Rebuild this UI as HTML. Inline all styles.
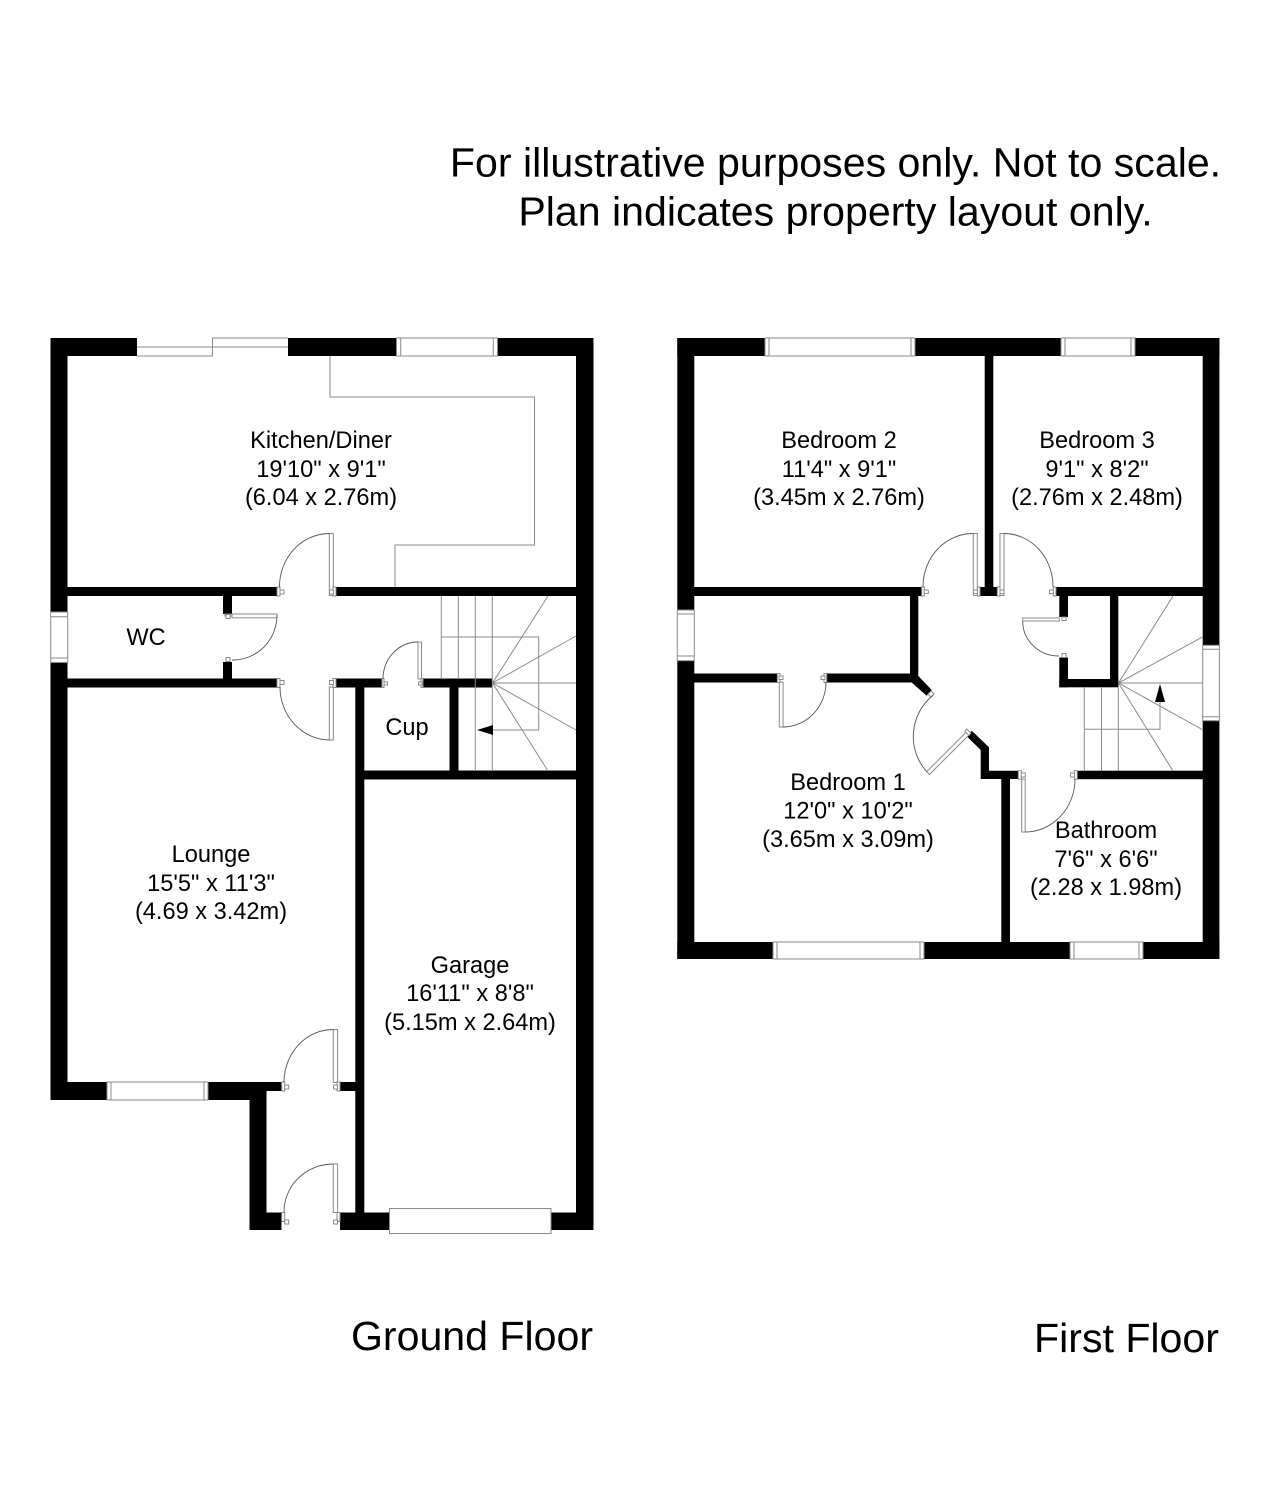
<!DOCTYPE html>
<html>
<head>
<meta charset="utf-8">
<style>
html,body{margin:0;padding:0;background:#fff}
svg{display:block}
text{font-family:"Liberation Sans",Arial,sans-serif;fill:#000;text-anchor:middle}
.r{font-size:23.6px}
.b{font-size:41.1px}
.w{fill:#000;stroke:none}
.l{fill:none;stroke:#8a8a8a;stroke-width:1}
.g{fill:#fff;stroke:#8a8a8a;stroke-width:1}
.d{fill:none;stroke:#555;stroke-width:.9}
</style>
</head>
<body>
<svg width="1271" height="1500" viewBox="0 0 1271 1500" xmlns="http://www.w3.org/2000/svg">
<rect width="1271" height="1500" fill="#fff"/>

<text class="b" x="835.5" y="176.5">For illustrative purposes only. Not to scale.</text>
<text class="b" x="835.5" y="225.5">Plan indicates property layout only.</text>

<!-- GROUND FLOOR walls -->
<g class="w">
<rect x="50.5" y="338" width="543" height="18"/>
<rect x="50.5" y="338" width="17" height="762"/>
<rect x="576" y="338" width="17.5" height="892"/>
<rect x="67" y="587" width="210" height="9"/>
<rect x="336" y="587" width="240" height="9"/>
<rect x="223" y="596" width="9" height="18"/>
<rect x="223" y="662" width="9" height="17"/>
<rect x="67" y="678.5" width="210" height="9"/>
<rect x="336" y="678.5" width="46" height="9"/>
<rect x="423" y="678.5" width="69.5" height="9"/>
<rect x="355.3" y="687" width="9" height="526"/>
<rect x="449.5" y="687" width="9" height="84"/>
<rect x="364" y="770.5" width="212" height="9"/>
<rect x="50.5" y="1082" width="199" height="18"/>
<rect x="249.5" y="1082" width="32" height="9"/>
<rect x="249.5" y="1082" width="17" height="148"/>
<rect x="249.5" y="1212.5" width="32" height="17.5"/>
<rect x="340" y="1082" width="16" height="9"/>
<rect x="340" y="1212.5" width="49" height="17.5"/>
<rect x="551" y="1212.5" width="42.5" height="17.5"/>
</g>

<!-- ground windows -->
<rect x="137" y="338" width="151" height="18.5" fill="#fff"/>
<path class="l" d="M137 347H212.5M137 356H212.5V338H288M212.5 347H288"/>
<rect class="g" x="396.5" y="338" width="101" height="18"/>
<path class="l" d="M400.7 338V356M493.3 338V356"/>
<rect class="g" x="50.7" y="612" width="17" height="50.5"/>
<path class="l" d="M50.7 616.7H67.7M50.7 658H67.7"/>
<rect class="g" x="107" y="1082" width="101" height="18"/>
<path class="l" d="M111 1082V1100M204 1082V1100"/>
<rect class="g" x="389.5" y="1208.5" width="161.5" height="25"/>

<!-- kitchen unit line -->
<path class="l" d="M330 356V397H534.5V545H395V587"/>

<!-- stairs ground -->
<path class="l" d="M441.3 596V679M458.3 596V679M475.3 596V771M492.3 596V771M441.3 637H538.7V730H493"/>
<path class="l" d="M492.5 683L548 596M492.5 683L576 636M492.5 683H576M492.5 683L576 730M492.5 683L548 771"/>
<path d="M493 725V735L477 730Z" fill="#000"/>

<!-- ground doors -->
<g class="g">
<rect x="329.3" y="533.5" width="4" height="62"/>
<rect x="277" y="587" width="3" height="9"/><rect x="280" y="590" width="4" height="4"/>
<rect x="333" y="587" width="3" height="9"/><rect x="329.5" y="590" width="4" height="4"/>
<rect x="232" y="614" width="45" height="3.8"/>
<rect x="225" y="614" width="7" height="2"/><rect x="226" y="614.5" width="4" height="4"/>
<rect x="226" y="657.5" width="4" height="4"/>
<rect x="329.3" y="687" width="4" height="53"/>
<rect x="277" y="678.5" width="3" height="9"/><rect x="280" y="680.5" width="4" height="4"/>
<rect x="333" y="678.5" width="3" height="9"/><rect x="329.5" y="680.5" width="4" height="4"/>
<rect x="418" y="642" width="3.5" height="37"/>
<rect x="382" y="678.5" width="2" height="9"/><rect x="384" y="682" width="3.5" height="3"/>
<rect x="421" y="678.5" width="2" height="9"/><rect x="418.5" y="682" width="3.5" height="3"/>
<rect x="333.3" y="1029.5" width="4.3" height="53"/>
<rect x="281.7" y="1082" width="3" height="9"/><rect x="284.7" y="1085" width="4" height="4"/>
<rect x="337" y="1082" width="3" height="9"/><rect x="333.5" y="1085" width="4" height="4"/>
<rect x="333.3" y="1164" width="4.3" height="48.5"/>
<rect x="281.7" y="1212.5" width="3" height="9"/><rect x="284.7" y="1220" width="4" height="4"/>
<rect x="337" y="1212.5" width="3" height="9"/><rect x="333.5" y="1220" width="4" height="4"/>
</g>
<g class="d">
<path d="M279.5 587A50 53 0 0 1 329.3 533.5"/>
<path d="M277 615A44 45 0 0 1 232 660"/>
<path d="M280 687A50 53 0 0 0 329.3 740"/>
<path d="M383 679A35 37 0 0 1 418 642"/>
<path d="M284 1082A49 53 0 0 1 333.3 1029.5"/>
<path d="M284 1212A49 48 0 0 1 333.3 1164"/>
</g>

<!-- FIRST FLOOR walls -->
<g class="w">
<rect x="677.3" y="338" width="542" height="18"/>
<rect x="677.3" y="338" width="17" height="621"/>
<rect x="1202.7" y="338" width="16.7" height="621"/>
<rect x="677.3" y="942" width="542" height="17"/>
<rect x="984.7" y="356" width="8.6" height="240"/>
<rect x="980" y="587" width="17.3" height="9"/>
<rect x="694" y="587" width="227.7" height="9"/>
<rect x="910" y="595" width="8.3" height="80"/>
<rect x="694" y="673.5" width="83.3" height="9"/>
<polygon points="826.7,673.5 910,673.5 917.5,675 931.7,690 926.7,695.7 911.7,682.5 826.7,682.5"/>
<rect x="1056" y="587" width="147" height="9"/>
<rect x="1059.3" y="596" width="8.7" height="21"/>
<rect x="1059.3" y="657.5" width="8.7" height="29.8"/>
<rect x="1059.3" y="679" width="59" height="8.3"/>
<rect x="1110" y="596" width="8.3" height="91"/>
<polygon points="971.7,730.7 989,747.3 989,770.7 1018.3,770.7 1018.3,779 1010,779 1010,942 1001.3,942 1001.3,779 980.7,779 980.7,750 967,736.5"/>
<rect x="1077.3" y="770.7" width="126" height="8.5"/>
</g>

<!-- first floor windows -->
<rect class="g" x="765" y="338" width="150" height="18"/>
<path class="l" d="M769 338V356M911 338V356"/>
<rect class="g" x="1061" y="338" width="74" height="18"/>
<path class="l" d="M1065 338V356M1131 338V356"/>
<rect class="g" x="773" y="942" width="151" height="17"/>
<path class="l" d="M777 942V959M920 942V959"/>
<rect class="g" x="1070" y="942" width="73" height="17"/>
<path class="l" d="M1074 942V959M1139 942V959"/>
<rect class="g" x="677.3" y="610" width="17" height="50.7"/>
<path class="l" d="M677.3 614H694.3M677.3 656H694.3"/>
<rect class="g" x="1202.7" y="645.3" width="16.7" height="75.4"/>
<path class="l" d="M1202.7 649.3H1219.4M1202.7 716.7H1219.4"/>

<!-- stairs first -->
<path class="l" d="M1084.3 687V771M1101.5 687V771M1118.3 687V771M1084.3 729.3H1160V702"/>
<path class="l" d="M1118.5 683L1173 596M1118.5 683L1203 636.7M1118.5 683H1203M1118.5 683L1203 730M1118.5 683L1173 771"/>
<path d="M1155 702H1165L1160 684Z" fill="#000"/>

<!-- first floor doors -->
<g class="g">
<rect x="779.3" y="682" width="3.8" height="45"/>
<rect x="777.3" y="673.5" width="2.6" height="9"/><rect x="779" y="676" width="4" height="3.5"/>
<rect x="824" y="673.5" width="2.7" height="9"/><rect x="821" y="676" width="4" height="3.5"/>
<rect x="973.3" y="533.5" width="4" height="62"/>
<rect x="921.7" y="587" width="2.6" height="9"/><rect x="924.3" y="590" width="4" height="3.6"/>
<rect x="977.3" y="587" width="2.7" height="9"/><rect x="973.5" y="590" width="4" height="3.6"/>
<rect x="1000" y="533.5" width="4" height="62"/>
<rect x="997.3" y="587" width="2.7" height="9"/><rect x="1000" y="590" width="4" height="3.6"/>
<rect x="1053.3" y="587" width="2.7" height="9"/><rect x="1049.5" y="590" width="4" height="3.6"/>
<rect x="1022.7" y="618" width="36.6" height="3"/>
<rect x="1062" y="617" width="4" height="3.5"/>
<rect x="1062" y="653.5" width="4" height="4"/>
<rect x="1021.7" y="779" width="3.5" height="53"/>
<rect x="1018.3" y="770.7" width="3" height="8.5"/><rect x="1021.3" y="773" width="4" height="4"/>
<rect x="1074.5" y="770.7" width="2.8" height="8.5"/><rect x="1070.5" y="773" width="4" height="4"/>
<polygon points="966.7,731.7 969.5,734.5 929.5,774.5 926.7,771.7"/>
<polygon points="966.7,729 971,733 969,735.5 965,731.5"/>
<polygon points="931,691 934,694 931,697 928,694"/>
</g>
<g class="d">
<path d="M826 682A43 45 0 0 1 783 727"/>
<path d="M923 587A50 53 0 0 1 973.3 533.5"/>
<path d="M1004 533.5A49 53 0 0 1 1053 587"/>
<path d="M1022.7 621A36 35 0 0 0 1059 656"/>
<path d="M1025 832A50 53 0 0 0 1075 779"/>
<path d="M933.3 695A53 53 0 0 0 926.7 771.7"/>
</g>

<!-- labels -->
<g class="r">
<text x="321" y="448">Kitchen/Diner</text>
<text x="321" y="477">19'10" x 9'1"</text>
<text x="321" y="505">(6.04 x 2.76m)</text>
<text x="146" y="645">WC</text>
<text x="407" y="735">Cup</text>
<text x="211" y="862">Lounge</text>
<text x="211" y="891">15'5" x 11'3"</text>
<text x="211" y="919">(4.69 x 3.42m)</text>
<text x="470" y="973">Garage</text>
<text x="470" y="1001">16'11" x 8'8"</text>
<text x="470" y="1030">(5.15m x 2.64m)</text>
<text x="839" y="448">Bedroom 2</text>
<text x="839" y="477">11'4" x 9'1"</text>
<text x="839" y="505">(3.45m x 2.76m)</text>
<text x="1097" y="448">Bedroom 3</text>
<text x="1097" y="477">9'1" x 8'2"</text>
<text x="1097" y="505">(2.76m x 2.48m)</text>
<text x="848" y="790">Bedroom 1</text>
<text x="848" y="818.5">12'0" x 10'2"</text>
<text x="848" y="847">(3.65m x 3.09m)</text>
<text x="1106" y="838">Bathroom</text>
<text x="1106" y="867">7'6" x 6'6"</text>
<text x="1106" y="895">(2.28 x 1.98m)</text>
</g>
<text class="b" x="472" y="1350">Ground Floor</text>
<text class="b" x="1126.5" y="1352">First Floor</text>
</svg>
</body>
</html>
